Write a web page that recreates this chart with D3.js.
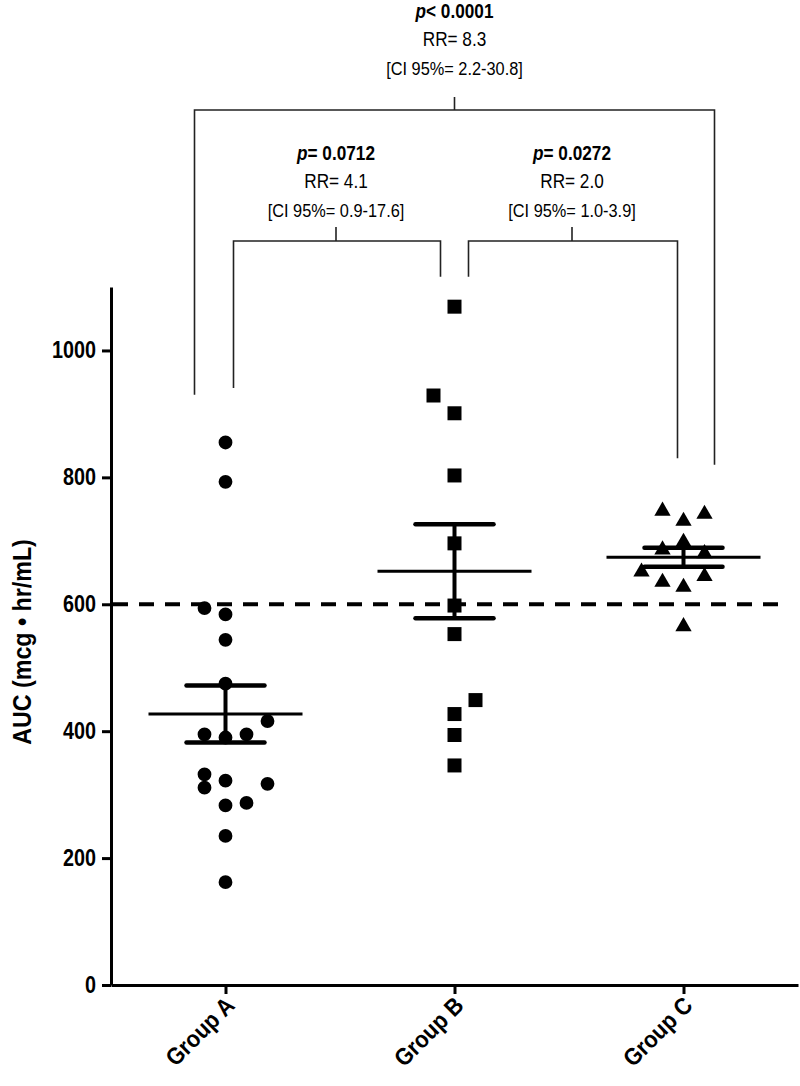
<!DOCTYPE html>
<html>
<head>
<meta charset="utf-8">
<script src="https://cdn.jsdelivr.net/npm/d3@7"></script>
<style>
  body { margin: 0; background: #fff; }
  text { font-family: "Liberation Sans", Arial, sans-serif; }
</style>
</head>
<body>
<div id="chart"></div>
<script>
// groups and tick labels
const groups = ["Group A", "Group B", "Group C"];
const yTicks = [0, 200, 400, 600, 800, 1000];
const threshold = 600;

// AUC values per group and horizontal slot of each point
const groupA = [855, 793, 594, 584, 544, 475, 416, 395, 390, 395, 332, 311, 322, 317, 283, 287, 235, 162];
const slotsA = [0, 0, -1, 0, 0, 0, 2, -1, 0, 1, -1, -1, 0, 2, 0, 1, 0, 0];
const groupB = [1069, 929, 901, 803, 696, 598, 553, 449, 427, 394, 346];
const slotsB = [0, -1, 0, 0, 0, 0, 0, 1, 0, 0, 0];
const groupC = [747, 731, 742, 698, 686, 680, 651, 644, 635, 627, 565];
const slotsC = [-1, 0, 1, 0, -1, 1, -2, 1, -1, 0, 0];

// mean and SEM per group
const means = [427, 652, 674];
const sems = [45, 74, 15];

// comparison annotations
const comparisons = [
  {from: "Group A", to: "Group C", p: "< 0.0001", rr: "8.3", ci: "2.2-30.8"},
  {from: "Group A", to: "Group B", p: "= 0.0712", rr: "4.1", ci: "0.9-17.6"},
  {from: "Group B", to: "Group C", p: "= 0.0272", rr: "2.0", ci: "1.0-3.9"}
];

const W = 800, H = 1086;
const svg = d3.select("#chart").append("svg")
  .attr("width", W).attr("height", H);

const x = d3.scalePoint().domain(groups).range([111, 798]).padding(0.5);
const y = d3.scaleLinear().domain([0, 1100]).range([985, 287]);
const slotW = 21;
const squeeze = 0.86; // the original type is a narrow face

// y axis
const yAxis = svg.append("g")
  .attr("transform", "translate(111,0)")
  .call(d3.axisLeft(y).tickValues(yTicks).tickFormat(d3.format("d"))
    .tickSize(9).tickSizeOuter(0));
yAxis.select(".domain").attr("stroke-width", 3);
yAxis.selectAll(".tick line").attr("stroke-width", 3);
yAxis.selectAll(".tick text")
  .style("font-size", "23px").style("font-weight", "bold")
  .attr("fill", "#000")
  .attr("x", -15 / squeeze)
  .attr("transform", `scale(${squeeze},1)`);

// x axis
const xAxis = svg.append("g")
  .attr("transform", `translate(0,${y(0)})`)
  .call(d3.axisBottom(x).tickSize(9).tickSizeOuter(0));
xAxis.select(".domain").attr("stroke-width", 3);
xAxis.selectAll(".tick line").attr("stroke-width", 3);
xAxis.selectAll(".tick text")
  .style("font-size", "24px").style("font-weight", "bold")
  .attr("fill", "#000")
  .attr("text-anchor", "end")
  .attr("dy", null)
  .attr("y", 0)
  .attr("transform", `translate(10,22) rotate(-45) scale(0.9,1)`);

// y axis title
svg.append("text")
  .attr("transform", `translate(31,${(y(0) + y(1100)) / 2 + 6}) rotate(-90) scale(0.93,1)`)
  .attr("text-anchor", "middle")
  .style("font-size", "25px").style("font-weight", "bold")
  .text("AUC (mcg \u2022 hr/mL)");

// dashed threshold line
svg.append("line")
  .attr("x1", 113).attr("x2", 782)
  .attr("y1", y(threshold)).attr("y2", y(threshold))
  .attr("stroke", "#000").attr("stroke-width", 4)
  .attr("stroke-dasharray", "15,11");

// points
const pts = [];
groupA.forEach((v, i) => pts.push({g: "Group A", v: v, s: slotsA[i], shape: d3.symbolCircle}));
groupB.forEach((v, i) => pts.push({g: "Group B", v: v, s: slotsB[i], shape: d3.symbolSquare}));
groupC.forEach((v, i) => pts.push({g: "Group C", v: v, s: slotsC[i], shape: d3.symbolTriangle}));

svg.append("g").selectAll("path")
  .data(pts)
  .join("path")
  .attr("transform", d => `translate(${x(d.g) + d.s * slotW},${y(d.v)})`)
  .attr("d", d => d3.symbol().type(d.shape).size(d.shape === d3.symbolSquare ? 196 : d.shape === d3.symbolCircle ? 150 : 115)())
  .attr("fill", "#000");

// mean and SEM bars
const bars = svg.append("g").attr("stroke", "#000");
groups.forEach((g, i) => {
  const cx = x(g);
  bars.append("line")
    .attr("x1", cx - 77).attr("x2", cx + 77)
    .attr("y1", y(means[i])).attr("y2", y(means[i]))
    .attr("stroke-width", 3);
  bars.append("line")
    .attr("x1", cx).attr("x2", cx)
    .attr("y1", y(means[i] - sems[i])).attr("y2", y(means[i] + sems[i]))
    .attr("stroke-width", 4);
  [means[i] - sems[i], means[i] + sems[i]].forEach(v => {
    bars.append("line")
      .attr("x1", cx - 39).attr("x2", cx + 39)
      .attr("y1", y(v)).attr("y2", y(v))
      .attr("stroke-width", 4.5)
      .attr("stroke-linecap", "round");
  });
});

// comparison brackets
const bracketLayout = [
  {x1: x("Group A") - 31, x2: x("Group C") + 31, top: 110, stem: 13, b1: 930, b2: 820, tx: x("Group B"), ty: 18},
  {x1: x("Group A") + 8, x2: x("Group B") - 14, top: 241, stem: 14, b1: 941, b2: 1116, tx: 336, ty: 160},
  {x1: x("Group B") + 14, x2: x("Group C") - 6, top: 241, stem: 14, b1: 1116, b2: 830, tx: 572, ty: 160}
];

function label(g, tx, ty, size) {
  return g.append("text")
    .attr("transform", `translate(${tx},${ty}) scale(${squeeze},1)`)
    .attr("text-anchor", "middle")
    .style("font-size", size + "px");
}

comparisons.forEach((c, i) => {
  const b = bracketLayout[i];
  const gb = svg.append("g");
  gb.append("path")
    .attr("d", `M${b.x1},${y(b.b1)}V${b.top}H${b.x2}V${y(b.b2)}M${b.tx},${b.top}V${b.top - b.stem}`)
    .attr("fill", "none").attr("stroke", "#222").attr("stroke-width", 1.6);

  const t = label(gb, b.tx, b.ty, 20).style("font-weight", "bold");
  t.append("tspan").style("font-style", "italic").text("p");
  t.append("tspan").text(c.p);

  label(gb, b.tx, b.ty + 28, 20).text("RR= " + c.rr);
  label(gb, b.tx, b.ty + 57, 19).text("[CI 95%= " + c.ci + "]");
});
</script>
</body>
</html>
